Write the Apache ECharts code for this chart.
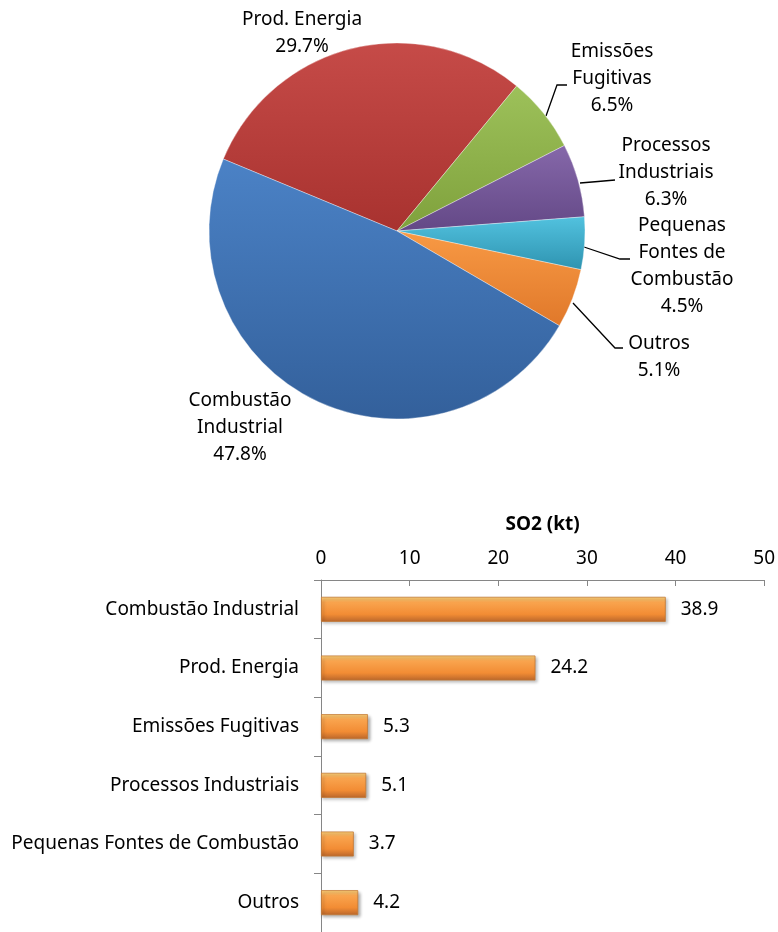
<!DOCTYPE html>
<html>
<head>
<meta charset="utf-8">
<script src="https://cdn.jsdelivr.net/npm/echarts@6/dist/echarts.min.js"></script>
<style>
html,body{margin:0;padding:0;background:#fff;}
#c{width:778px;height:932px;}
</style>
</head>
<body>
<div id="c"></div>
<script>
// ---- data ----
var pieNames = ['Prod. Energia', 'Emissões Fugitivas', 'Processos Industriais', 'Pequenas Fontes de Combustão', 'Outros', 'Combustão Industrial'];
var pieLabelText = ['Prod. Energia', 'Emissões\nFugitivas', 'Processos\nIndustriais', 'Pequenas\nFontes de\nCombustão', 'Outros', 'Combustão\nIndustrial'];
var piePercents = [29.7, 6.5, 6.3, 4.5, 5.1, 47.8];

var barCategories = ['Combustão Industrial', 'Prod. Energia', 'Emissões Fugitivas', 'Processos Industriais', 'Pequenas Fontes de Combustão', 'Outros'];
var barValues = [38.9, 24.2, 5.3, 5.1, 3.7, 4.2];

var axisTicks = [0, 10, 20, 30, 40, 50];

// ---- styles ----
var FONT = 'Noto Sans';
var FS = 19;
var sliceColors = [
  ['#c64b48', '#a8322f'],
  ['#9dc15a', '#7fa13c'],
  ['#8668aa', '#634886'],
  ['#52c2df', '#2e93b0'],
  ['#f89a45', '#e0782a'],
  ['#4b82c6', '#33609b']
];
// label placement (layout config)
var labelPos = [
  {x: 302, y: 33, line: null},
  {x: 612, y: 79, line: [[546,116],[557,85],[567,85]]},
  {x: 666, y: 173, line: [[580,183],[598,181.5],[615,180]]},
  {x: 682, y: 266, line: [[584,247],[620,259],[630,259]]},
  {x: 659, y: 357, line: [[573,303],[615,348],[623,348]]},
  {x: 240, y: 428, line: null}
];

var pieData = pieNames.map(function (n, i) {
  return {
    name: n,
    value: piePercents[i],
    itemStyle: {
      color: {
        type: 'linear', x: 0, y: 0, x2: 0, y2: 1,
        colorStops: [{offset: 0, color: sliceColors[i][0]}, {offset: 1, color: sliceColors[i][1]}]
      },
      borderColor: 'rgba(255,255,255,0.35)',
      borderWidth: 1
    },
    label: {
      formatter: pieLabelText[i] + '\n' + piePercents[i].toFixed(1) + '%'
    },
    labelLine: {show: labelPos[i].line !== null}
  };
});

var chart = echarts.init(document.getElementById('c'), null, {renderer: 'canvas'});
chart.setOption({
  backgroundColor: '#ffffff',
  animation: false,
  textStyle: {fontFamily: FONT},
  grid: {left: 321, right: 13, top: 580, bottom: -3, containLabel: false},
  xAxis: {
    type: 'value',
    position: 'top',
    min: axisTicks[0],
    max: axisTicks[axisTicks.length - 1],
    interval: axisTicks[1] - axisTicks[0],
    name: 'SO2 (kt)',
    nameLocation: 'middle',
    nameGap: 46,
    nameTextStyle: {fontFamily: FONT, fontSize: FS, fontWeight: 'bold', color: '#000'},
    axisLine: {show: true, lineStyle: {color: '#868686', width: 1}},
    axisTick: {show: true, inside: true, length: 6, lineStyle: {color: '#868686'}},
    axisLabel: {fontFamily: FONT, fontSize: FS, color: '#000', margin: 12},
    splitLine: {show: false}
  },
  yAxis: {
    type: 'category',
    inverse: true,
    data: barCategories,
    axisLine: {show: true, lineStyle: {color: '#868686', width: 1}},
    axisTick: {show: true, length: 7, lineStyle: {color: '#868686'}},
    axisLabel: {fontFamily: FONT, fontSize: FS, color: '#000', margin: 22}
  },
  series: [
    {
      type: 'pie',
      center: [397, 231],
      radius: 188,
      startAngle: 157.5,
      clockwise: true,
      data: pieData,
      label: {
        show: true,
        position: 'outside',
        fontFamily: FONT,
        fontSize: FS,
        lineHeight: 27,
        color: '#000',
        align: 'center'
      },
      labelLine: {lineStyle: {color: '#000', width: 1.3}},
      labelLayout: function (p) {
        var L = labelPos[p.dataIndex];
        var o = {x: L.x, y: L.y, align: 'center', verticalAlign: 'middle'};
        if (L.line) { o.labelLinePoints = L.line; }
        return o;
      }
    },
    {
      type: 'bar',
      data: barValues,
      barWidth: 25,
      itemStyle: {
        color: {
          type: 'linear', x: 0, y: 0, x2: 0, y2: 1,
          colorStops: [
            {offset: 0, color: '#fdd47c'},
            {offset: 0.22, color: '#f9a44e'},
            {offset: 0.7, color: '#f28c34'},
            {offset: 1, color: '#b9662b'}
          ]
        },
        borderColor: '#c47a36',
        borderWidth: 0.8,
        shadowColor: 'rgba(0,0,0,0.3)',
        shadowBlur: 3,
        shadowOffsetX: 2,
        shadowOffsetY: 2
      },
      label: {
        show: true,
        position: 'right',
        distance: 15,
        fontFamily: FONT,
        fontSize: FS,
        color: '#000',
        formatter: function (p) { return p.value.toFixed(1); }
      }
    }
  ]
});
</script>
</body>
</html>
